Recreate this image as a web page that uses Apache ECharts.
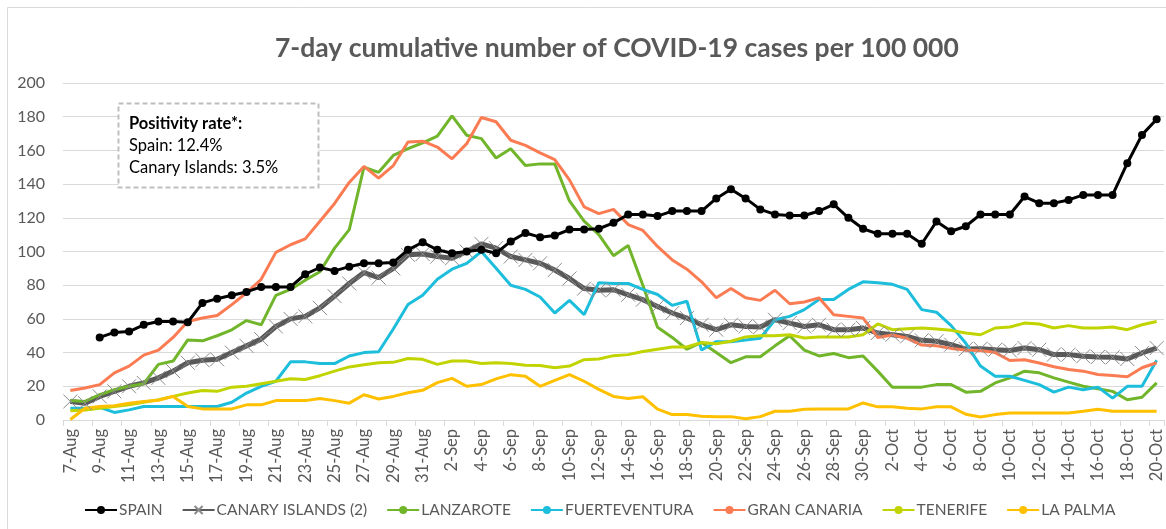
<!DOCTYPE html>
<html>
<head>
<meta charset="utf-8">
<title>7-day cumulative number of COVID-19 cases per 100 000</title>
<script src="https://cdn.jsdelivr.net/npm/echarts@6/dist/echarts.min.js"></script>
<style>
    html, body { margin: 0; padding: 0; background: #fff; }
    #chart { width: 1166px; height: 529px; }
</style>
</head>
<body>
<div id="chart"></div>
<script>
// categories: one per day, 7-Aug .. 20-Oct
var dates = [
    '7-Aug', '8-Aug', '9-Aug', '10-Aug', '11-Aug', '12-Aug', '13-Aug', '14-Aug', '15-Aug', '16-Aug',
    '17-Aug', '18-Aug', '19-Aug', '20-Aug', '21-Aug', '22-Aug', '23-Aug', '24-Aug', '25-Aug', '26-Aug',
    '27-Aug', '28-Aug', '29-Aug', '30-Aug', '31-Aug', '1-Sep', '2-Sep', '3-Sep', '4-Sep', '5-Sep',
    '6-Sep', '7-Sep', '8-Sep', '9-Sep', '10-Sep', '11-Sep', '12-Sep', '13-Sep', '14-Sep', '15-Sep',
    '16-Sep', '17-Sep', '18-Sep', '19-Sep', '20-Sep', '21-Sep', '22-Sep', '23-Sep', '24-Sep', '25-Sep',
    '26-Sep', '27-Sep', '28-Sep', '29-Sep', '30-Sep', '1-Oct', '2-Oct', '3-Oct', '4-Oct', '5-Oct',
    '6-Oct', '7-Oct', '8-Oct', '9-Oct', '10-Oct', '11-Oct', '12-Oct', '13-Oct', '14-Oct', '15-Oct',
    '16-Oct', '17-Oct', '18-Oct', '19-Oct', '20-Oct'
];

var spain = [
    null, null, 49, 52, 52.5, 56.5, 58.5, 58.5, 58, 69.5,
    72, 74, 76, 79, 79, 79, 86.5, 90.5, 88.5, 91,
    93, 93, 93.5, 101, 105.5, 101, 99, 100, 101, 99,
    106, 111, 108.5, 109.5, 113, 113, 113.5, 117, 122, 122,
    121, 124, 124, 124, 131.5, 137, 131.5, 125, 122, 121.4,
    121.4, 124, 128, 120, 113.5, 110.5, 110.5, 110.5, 104.6, 117.8,
    112, 115, 122, 122, 122, 132.6, 128.7, 128.7, 130.6, 133.6,
    133.6, 133.6, 152.4, 169.2, 178.5
];
var canary = [
    11, 10, 14, 17, 20, 22, 25, 29, 34, 35.5,
    36, 40, 44, 48, 55.5, 60, 61.5, 66.5, 73.5, 81,
    87.5, 84.5, 90, 98, 98.5, 97, 96, 100, 104.5, 102,
    97, 95, 93, 89, 84, 78, 77, 77.3, 74.3, 71.4,
    67.4, 63.5, 60.5, 56.5, 53.6, 56.5, 55.5, 55.2, 59.5, 57.5,
    55.5, 56.5, 53.6, 53.6, 54.6, 51.6, 50.6, 49.6, 47.3, 46.7,
    44.7, 42.1, 42.3, 41.7, 41.3, 42.7, 41.7, 38.8, 38.8, 37.8,
    37.4, 37.2, 36.2, 39.8, 42.7
];
var lanzarote = [
    11.5, 11, 15, 18, 20, 21.5, 33, 35, 47.5, 47,
    50, 53.5, 59, 56.5, 74, 77.5, 83, 88, 102, 113,
    150, 147, 157, 161, 164.5, 168.5, 180.5, 169, 167, 155.5,
    161, 151, 152, 152, 130, 118, 110, 97.5, 103.5, 80,
    55, 49, 42, 46, 40, 34, 37.5, 37.5, 44, 50,
    41.5, 38, 39.5, 37, 38, 29, 19.5, 19.5, 19.5, 21,
    21, 16.5, 17, 22, 25, 29, 28, 25, 22.5, 20,
    18.5, 17, 12, 13.5, 22
];
var fuerteventura = [
    7, 7, 7.5, 4.5, 6, 8, 8, 8, 8, 8,
    8, 10.5, 16, 20, 23, 34.5, 34.5, 33.5, 33.5, 38,
    40, 40.5, 54, 68.5, 74, 83.5, 89.5, 93, 100, 90,
    80, 77.5, 73, 63.5, 71, 62.5, 81.5, 81, 81, 77.5,
    74.5, 68, 70.5, 41.5, 46.5, 46.5, 47.5, 48.5, 59.5, 61.5,
    65.5, 71.5, 71.5, 77.5, 82, 81.5, 80.5, 77.5, 65.5, 64,
    56, 45.5, 32, 26, 26, 23.5, 21, 16.5, 19.5, 18,
    19.5, 13, 20, 20, 35.5
];
var granCanaria = [
    17.5, 19, 21, 28, 32, 38.5, 41.5, 49, 58.5, 60.5,
    62, 68.5, 75.5, 83.5, 99.5, 104, 107.5, 118, 128.5, 141,
    150.5, 143.5, 151, 165, 165.5, 162, 155, 164, 179.5, 177,
    166, 163, 158.5, 154.5, 142.5, 126.5, 122.5, 125, 116, 112.5,
    103, 95, 89.5, 82, 72.5, 78, 72.5, 71, 77, 69,
    70, 72.5, 62.5, 61.5, 60.5, 49, 50.5, 48.5, 44.5, 44,
    42.5, 41.5, 41.3, 40, 35.3, 35.8, 33.8, 31.6, 30, 29,
    27, 26.4, 25.7, 31, 34
];
var tenerife = [
    5.5, 6, 7, 8, 9, 10.5, 12, 14, 16, 17.5,
    17, 19.5, 20, 21.5, 23, 24.5, 24, 26.3, 29, 31.5,
    32.8, 34, 34.2, 36.5, 36, 33, 35, 35, 33.5, 34,
    33.5, 32.5, 32.3, 31, 32, 35.8, 36.2, 38.2, 38.8, 40.7,
    42, 43.3, 43.3, 46, 45.3, 46.7, 49.3, 50, 50, 50.6,
    48.7, 49.3, 49.3, 49.3, 50.6, 57, 53.6, 54.2, 54.6, 54,
    53.2, 51.6, 50.6, 54.6, 55.2, 57.5, 57, 54.6, 56, 54.6,
    54.6, 55.2, 53.6, 56.5, 58.5
];
var laPalma = [
    0.3, 7, 8, 8.5, 10, 11, 11.7, 14, 8, 6.6,
    6.6, 6.6, 9, 9, 11.5, 11.5, 11.5, 12.8, 11.5, 10,
    15, 12.5, 14, 16.2, 17.6, 22.2, 24.7, 20, 21, 24.4,
    26.9, 26, 20, 23.5, 26.9, 23, 18.2, 14, 12.8, 13.8,
    6.4, 3.2, 3.2, 2.2, 2, 2, 0.8, 2, 5.2, 5.2,
    6.4, 6.6, 6.6, 6.6, 10.1, 7.8, 7.8, 7, 6.6, 7.8,
    7.8, 3.4, 1.8, 3.2, 4.2, 4.2, 4.2, 4.2, 4.2, 5.2,
    6.4, 5.2, 5.2, 5.2, 5.2
];

var seriesNames = ['SPAIN', 'CANARY ISLANDS (2)', 'LANZAROTE', 'FUERTEVENTURA', 'GRAN CANARIA', 'TENERIFE', 'LA PALMA'];
var seriesColors = ['#000000', '#595959', '#70b52a', '#1dbddc', '#fb7b53', '#c1d400', '#ffc000'];
var noteLines = ['Positivity rate*:', 'Spain: 12.4%', 'Canary Islands: 3.5%'];

var FONT = 'Lato';
var TEXT_GREY = '#595959';

function plainLine(name, data, color, width) {
    return {
        name: name,
        type: 'line',
        data: data,
        symbol: 'none',
        smooth: false,
        lineStyle: { color: color, width: width },
        itemStyle: { color: color },
        emphasis: { disabled: true }
    };
}

var series = [
    {
        name: seriesNames[0],
        type: 'line',
        data: spain,
        symbol: 'circle',
        symbolSize: 8,
        showAllSymbol: true,
        lineStyle: { color: seriesColors[0], width: 3 },
        itemStyle: { color: seriesColors[0] },
        emphasis: { disabled: true },
        z: 4
    },
    {
        name: seriesNames[1],
        type: 'line',
        data: canary,
        symbol: 'path://M0,0L10,10M10,0L0,10',
        symbolSize: 14,
        showAllSymbol: true,
        lineStyle: { color: seriesColors[1], width: 5 },
        itemStyle: { color: 'none', borderColor: '#8c8c8c', borderWidth: 1 },
        emphasis: { disabled: true },
        z: 3
    },
    plainLine(seriesNames[2], lanzarote, seriesColors[2], 3),
    plainLine(seriesNames[3], fuerteventura, seriesColors[3], 3),
    plainLine(seriesNames[4], granCanaria, seriesColors[4], 3),
    plainLine(seriesNames[5], tenerife, seriesColors[5], 3),
    plainLine(seriesNames[6], laPalma, seriesColors[6], 3)
];

var chart = echarts.init(document.getElementById('chart'), null, { renderer: 'canvas' });

chart.setOption({
    animation: false,
    backgroundColor: '#ffffff',
    textStyle: { fontFamily: FONT },
    title: {
        text: '7-day cumulative number of COVID-19 cases per 100 000',
        left: 270,
        top: 30,
        textStyle: { fontFamily: FONT, fontSize: 26.5, fontWeight: 'bold', color: TEXT_GREY }
    },
    grid: { left: 63, right: 2, top: 83, bottom: 109, containLabel: false },
    legend: {
        data: seriesNames,
        left: 84,
        top: 502,
        width: 1080,
        padding: 0,
        itemWidth: 32,
        itemHeight: 10,
        itemGap: 19,
        textStyle: { fontFamily: FONT, fontSize: 15.5, color: TEXT_GREY, padding: [0, 0, 0, -3] }
    },
    xAxis: {
        type: 'category',
        data: dates,
        boundaryGap: true,
        axisLine: { lineStyle: { color: '#d9d9d9', width: 1 } },
        axisTick: { show: true, interval: 1, length: 6, lineStyle: { color: '#d9d9d9' } },
        axisLabel: { interval: 1, rotate: 90, margin: 9, fontFamily: FONT, fontSize: 16.5, color: TEXT_GREY }
    },
    yAxis: {
        type: 'value',
        min: 0,
        max: 200,
        interval: 20,
        axisLine: { show: false },
        axisTick: { show: false },
        axisLabel: { margin: 18, fontFamily: FONT, fontSize: 16, color: TEXT_GREY },
        splitLine: { lineStyle: { color: '#d9d9d9', width: 1 } }
    },
    graphic: [
        {
            type: 'rect',
            silent: true,
            shape: { x: 7.5, y: 7.5, width: 1200, height: 600 },
            style: { fill: 'none', stroke: '#d9d9d9', lineWidth: 1 }
        },
        {
            type: 'rect',
            silent: true,
            z: 10,
            shape: { x: 118.5, y: 103.5, width: 200, height: 84 },
            style: { fill: '#ffffff', stroke: '#bfbfbf', lineWidth: 2, lineDash: [5, 3] }
        },
        {
            type: 'text',
            silent: true,
            z: 11,
            left: 129,
            top: 115,
            style: { text: noteLines[0], fontFamily: FONT, fontSize: 16.5, fontWeight: 'bold', fill: '#000000' }
        },
        {
            type: 'text',
            silent: true,
            z: 11,
            left: 129,
            top: 137,
            style: { text: noteLines[1], fontFamily: FONT, fontSize: 16.5, fill: '#000000' }
        },
        {
            type: 'text',
            silent: true,
            z: 11,
            left: 129,
            top: 159,
            style: { text: noteLines[2], fontFamily: FONT, fontSize: 16.5, fill: '#000000' }
        }
    ],
    series: series
});
</script>
</body>
</html>
